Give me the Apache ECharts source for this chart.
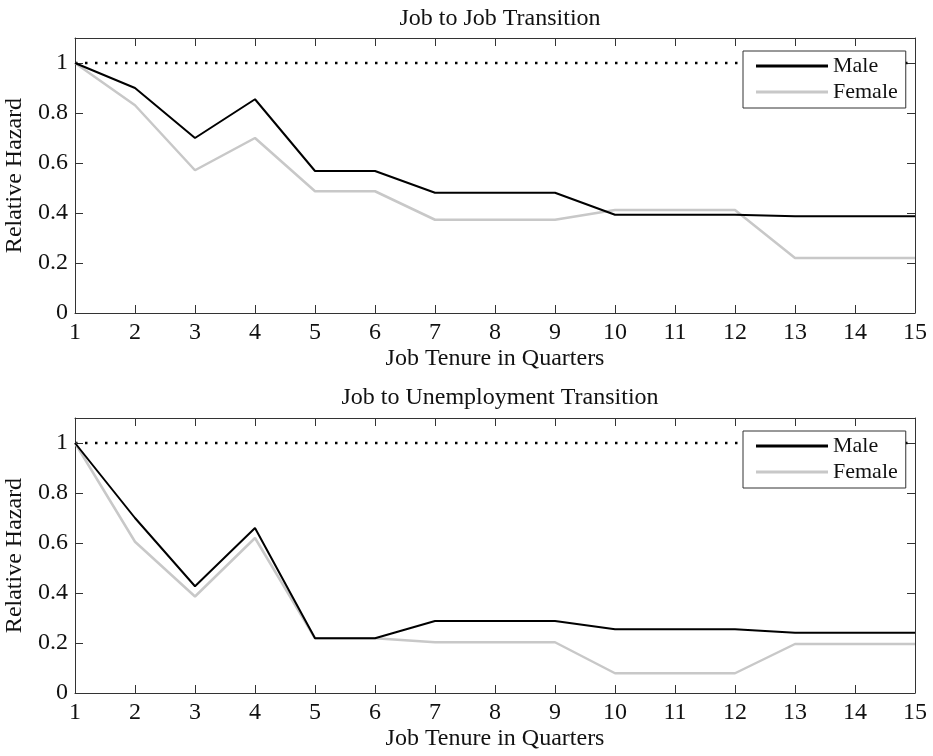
<!DOCTYPE html>
<html>
<head>
<meta charset="utf-8">
<script src="https://cdn.jsdelivr.net/npm/echarts@6/dist/echarts.min.js"></script>
<style>
html,body{margin:0;padding:0;background:#fff;}
#chart{width:933px;height:756px;}
</style>
</head>
<body>
<div id="chart"></div>
<script>
// ---- data ----
const tenure = [1, 2, 3, 4, 5, 6, 7, 8, 9, 10, 11, 12, 13, 14, 15];
const jjMale   = [1.0, 0.90, 0.70, 0.855, 0.568, 0.568, 0.481, 0.481, 0.481, 0.393, 0.393, 0.393, 0.387, 0.387, 0.387];
const jjFemale = [1.0, 0.831, 0.571, 0.70, 0.487, 0.487, 0.373, 0.373, 0.373, 0.412, 0.412, 0.412, 0.22, 0.22, 0.22];
const juMale   = [1.0, 0.70, 0.427, 0.66, 0.219, 0.219, 0.288, 0.288, 0.288, 0.255, 0.255, 0.255, 0.241, 0.241, 0.241];
const juFemale = [1.0, 0.605, 0.386, 0.62, 0.219, 0.219, 0.203, 0.203, 0.203, 0.079, 0.079, 0.079, 0.196, 0.196, 0.196];
const baseline = [1, 1, 1, 1, 1, 1, 1, 1, 1, 1, 1, 1, 1, 1, 1];
const titles = ['Job to Job Transition', 'Job to Unemployment Transition'];
const xName = 'Job Tenure in Quarters';
const yName = 'Relative Hazard';
const seriesNames = ['Male', 'Female'];

const FONT = 'Liberation Serif';
const AX = '#333';
const MALE_C = '#000';
const FEMALE_C = '#c8c8c8';
const zip = (ys) => tenure.map((x, i) => [x, ys[i]]);

const chart = echarts.init(document.getElementById('chart'), null, {renderer: 'canvas'});

const grids = [
  {left: 75, width: 840, top: 38, height: 275, outerBoundsMode: 'none', containLabel: false},
  {left: 75, width: 840, top: 418, height: 275, outerBoundsMode: 'none', containLabel: false}
];

const xAxes = [], yAxes = [], series = [], legends = [], titleOpts = [];
const panels = [[jjMale, jjFemale], [juMale, juFemale]];

grids.forEach((g, gi) => {
  xAxes.push({
    type: 'value', gridIndex: gi, min: 1, max: 15, interval: 1, position: 'bottom',
    name: xName, nameLocation: 'middle', nameGap: 34,
    nameTextStyle: {fontFamily: FONT, fontSize: 24, color: '#111'},
    axisLine: {show: true, onZero: false, lineStyle: {color: AX, width: 1}},
    axisTick: {show: true, inside: true, length: 8, lineStyle: {color: AX}},
    axisLabel: {fontFamily: FONT, fontSize: 24, color: '#111', margin: 8},
    splitLine: {show: false}
  });
  xAxes.push({
    type: 'value', gridIndex: gi, min: 1, max: 15, interval: 1, position: 'top',
    axisLine: {show: true, onZero: false, lineStyle: {color: AX, width: 1}},
    axisTick: {show: true, inside: true, length: 8, lineStyle: {color: AX}},
    axisLabel: {show: false}, splitLine: {show: false}
  });
  yAxes.push({
    type: 'value', gridIndex: gi, min: 0, max: 1.1, interval: 0.2, position: 'left',
    name: yName, nameLocation: 'middle', nameGap: 45, nameRotate: 90,
    nameTextStyle: {fontFamily: FONT, fontSize: 24, color: '#111'},
    axisLine: {show: true, onZero: false, lineStyle: {color: AX, width: 1}},
    axisTick: {show: true, inside: true, length: 8, lineStyle: {color: AX}},
    axisLabel: {fontFamily: FONT, fontSize: 24, color: '#111', margin: 7,
      formatter: (v) => v > 1.05 ? '' : String(+v.toFixed(1))},
    splitLine: {show: false}
  });
  yAxes.push({
    type: 'value', gridIndex: gi, min: 0, max: 1.1, interval: 0.2, position: 'right',
    axisLine: {show: true, onZero: false, lineStyle: {color: AX, width: 1}},
    axisTick: {show: true, inside: true, length: 8, lineStyle: {color: AX}},
    axisLabel: {show: false}, splitLine: {show: false}
  });

  const xi = gi * 2, yi = gi * 2;
  series.push({
    type: 'line', name: 'ref', xAxisIndex: xi, yAxisIndex: yi, data: zip(baseline),
    symbol: 'none', silent: true, z: 1,
    lineStyle: {color: '#000', width: 2.5, type: [2.5, 7.5], cap: 'butt'}
  });
  series.push({
    type: 'line', name: seriesNames[0], xAxisIndex: xi, yAxisIndex: yi, data: zip(panels[gi][0]),
    symbol: 'none', z: 3, color: MALE_C,
    lineStyle: {color: MALE_C, width: 2}
  });
  series.push({
    type: 'line', name: seriesNames[1], xAxisIndex: xi, yAxisIndex: yi, data: zip(panels[gi][1]),
    symbol: 'none', z: 2, color: FEMALE_C,
    lineStyle: {color: FEMALE_C, width: 2.5}
  });

  legends.push({
    data: [
      {name: seriesNames[0], icon: 'rect', itemStyle: {color: MALE_C}},
      {name: seriesNames[1], icon: 'rect', itemStyle: {color: FEMALE_C}}
    ],
    orient: 'vertical', left: 743, top: g.top + 13,
    backgroundColor: '#fff', borderColor: AX, borderWidth: 1,
    padding: [4, 8, 5, 13], itemGap: 4, itemWidth: 72, itemHeight: 3,
    selectedMode: false,
    textStyle: {fontFamily: FONT, fontSize: 22, color: '#111', lineHeight: 22}
  });

  titleOpts.push({
    text: titles[gi], left: 495, textAlign: 'center', top: gi === 0 ? 2 : 381,
    textStyle: {fontFamily: FONT, fontSize: 24, fontWeight: 'normal', color: '#111'}
  });
});

chart.setOption({
  animation: false,
  backgroundColor: '#fff',
  title: titleOpts,
  legend: legends,
  grid: grids,
  xAxis: xAxes,
  yAxis: yAxes,
  series: series
});
</script>
</body>
</html>
